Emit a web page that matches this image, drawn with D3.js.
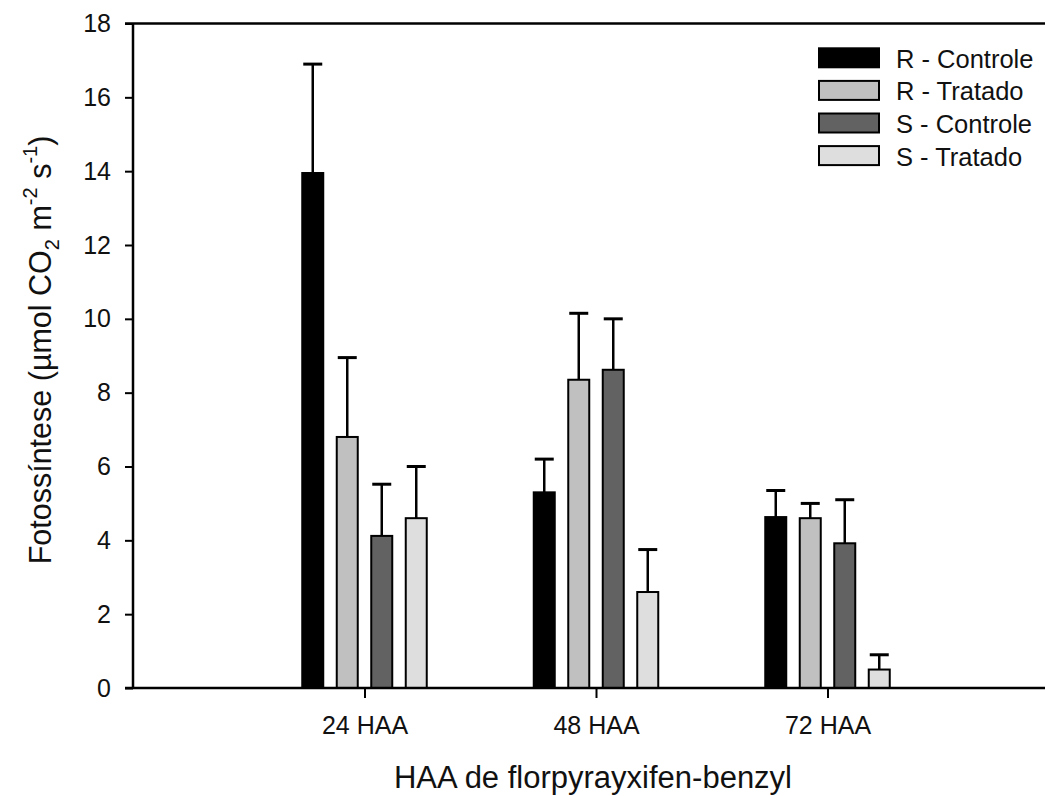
<!DOCTYPE html>
<html>
<head>
<meta charset="utf-8">
<script src="https://cdn.jsdelivr.net/npm/d3@7"></script>
<style>
  body { margin: 0; background: #fff; }
  text { font-family: "Liberation Sans", Arial, sans-serif; fill: #111; }
</style>
</head>
<body>
<script>
// data
var categories = ["24 HAA", "48 HAA", "72 HAA"];
var seriesNames = ["R - Controle", "R - Tratado", "S - Controle", "S - Tratado"];
var seriesColors = ["#000000", "#c0c0c0", "#626262", "#dedede"];
var rControle = [13.95, 5.3, 4.63];
var rTratado = [6.8, 8.35, 4.6];
var sControle = [4.12, 8.62, 3.92];
var sTratado = [4.6, 2.6, 0.5];
var rControleErr = [2.95, 0.9, 0.72];
var rTratadoErr = [2.15, 1.8, 0.4];
var sControleErr = [1.4, 1.38, 1.18];
var sTratadoErr = [1.4, 1.15, 0.4];
var yTicks = [0, 2, 4, 6, 8, 10, 12, 14, 16, 18];

var values = [rControle, rTratado, sControle, sTratado];
var errors = [rControleErr, rTratadoErr, sControleErr, sTratadoErr];

var svgWidth = 1045;
var svgHeight = 796;

var svg = d3.select("body")
    .append("svg")
    .attr("width", svgWidth)
    .attr("height", svgHeight);

// scales
var x = d3.scaleLinear().domain([0, 4]).range([133, 1059]);
var y = d3.scaleLinear().domain([0, 18]).range([688, 23.5]);

var barPitch = 34.5;
var barWidth = 21;

// flatten into bar records
var bars = [];
values.forEach(function(arr, s) {
    arr.forEach(function(v, c) {
        bars.push({ s: s, c: c, v: v, e: errors[s][c],
            cx: x(c + 1) + (s - 1.5) * barPitch });
    });
});

// error bars (drawn first, bar covers the bottom part)
var eg = svg.append("g");
eg.selectAll("line.stem")
    .data(bars)
    .enter()
    .append("line")
    .attr("x1", d => d.cx)
    .attr("x2", d => d.cx)
    .attr("y1", d => y(d.v))
    .attr("y2", d => y(d.v + d.e))
    .attr("stroke", "#000")
    .attr("stroke-width", 2.5);
eg.selectAll("line.cap")
    .data(bars)
    .enter()
    .append("line")
    .attr("x1", d => d.cx - 9.5)
    .attr("x2", d => d.cx + 9.5)
    .attr("y1", d => y(d.v + d.e))
    .attr("y2", d => y(d.v + d.e))
    .attr("stroke", "#000")
    .attr("stroke-width", 3);

// bars
svg.append("g").selectAll("rect")
    .data(bars)
    .enter()
    .append("rect")
    .attr("x", d => d.cx - barWidth / 2)
    .attr("y", d => y(d.v))
    .attr("width", barWidth)
    .attr("height", d => y(0) - y(d.v))
    .attr("fill", d => seriesColors[d.s])
    .attr("stroke", "#000")
    .attr("stroke-width", 2);

// left axis
var leftAxis = d3.axisLeft(y).tickValues(yTicks).tickSize(8).tickPadding(14);
var gy = svg.append("g")
    .attr("transform", "translate(133,0)")
    .call(leftAxis);
gy.select(".domain").attr("stroke-width", 2.5).attr("d", "M0,23.5V688");
gy.selectAll(".tick line").attr("stroke-width", 2);
gy.selectAll(".tick text")
    .style("font-size", "25px")
    .attr("font-family", "Liberation Sans, Arial, sans-serif");

// bottom axis
var bottomAxis = d3.axisBottom(x).tickValues([1, 2, 3])
    .tickFormat((d, i) => categories[i]).tickSize(10).tickPadding(18);
var gx = svg.append("g")
    .attr("transform", "translate(0,688)")
    .call(bottomAxis);
gx.select(".domain").attr("stroke-width", 2.5).attr("d", "M125,0H1045");
gx.selectAll(".tick line").attr("stroke-width", 2);
gx.selectAll(".tick text")
    .style("font-size", "25px")
    .attr("font-family", "Liberation Sans, Arial, sans-serif");

// top frame line
svg.append("line")
    .attr("x1", 125).attr("x2", 1045)
    .attr("y1", y(18)).attr("y2", y(18))
    .attr("stroke", "#000")
    .attr("stroke-width", 2.5);

// x title
svg.append("text")
    .attr("x", 593)
    .attr("y", 788)
    .attr("text-anchor", "middle")
    .style("font-size", "31px")
    .text("HAA de florpyrayxifen-benzyl");

// y title with sub/superscripts
var yt = svg.append("text")
    .attr("transform", "translate(51,350) rotate(-90)")
    .attr("text-anchor", "middle")
    .style("font-size", "30.5px");
yt.append("tspan").text("Fotossíntese (µmol CO");
yt.append("tspan").attr("dy", 8).style("font-size", "20px").text("2");
yt.append("tspan").attr("dy", -8).text(" m");
yt.append("tspan").attr("dy", -14).style("font-size", "20px").text("-2");
yt.append("tspan").attr("dy", 14).text(" s");
yt.append("tspan").attr("dy", -14).style("font-size", "20px").text("-1");
yt.append("tspan").attr("dy", 14).text(")");

// legend
var legend = svg.append("g").selectAll("g")
    .data(seriesNames)
    .enter()
    .append("g")
    .attr("transform", (d, i) => `translate(0, ${48.3 + i * 32.6})`);
legend.append("rect")
    .attr("x", 819)
    .attr("y", 0)
    .attr("width", 60)
    .attr("height", 19)
    .attr("fill", (d, i) => seriesColors[i])
    .attr("stroke", "#000")
    .attr("stroke-width", 2);
legend.append("text")
    .attr("x", 896)
    .attr("y", 19.5)
    .style("font-size", "25.5px")
    .text(d => d);
</script>
</body>
</html>
